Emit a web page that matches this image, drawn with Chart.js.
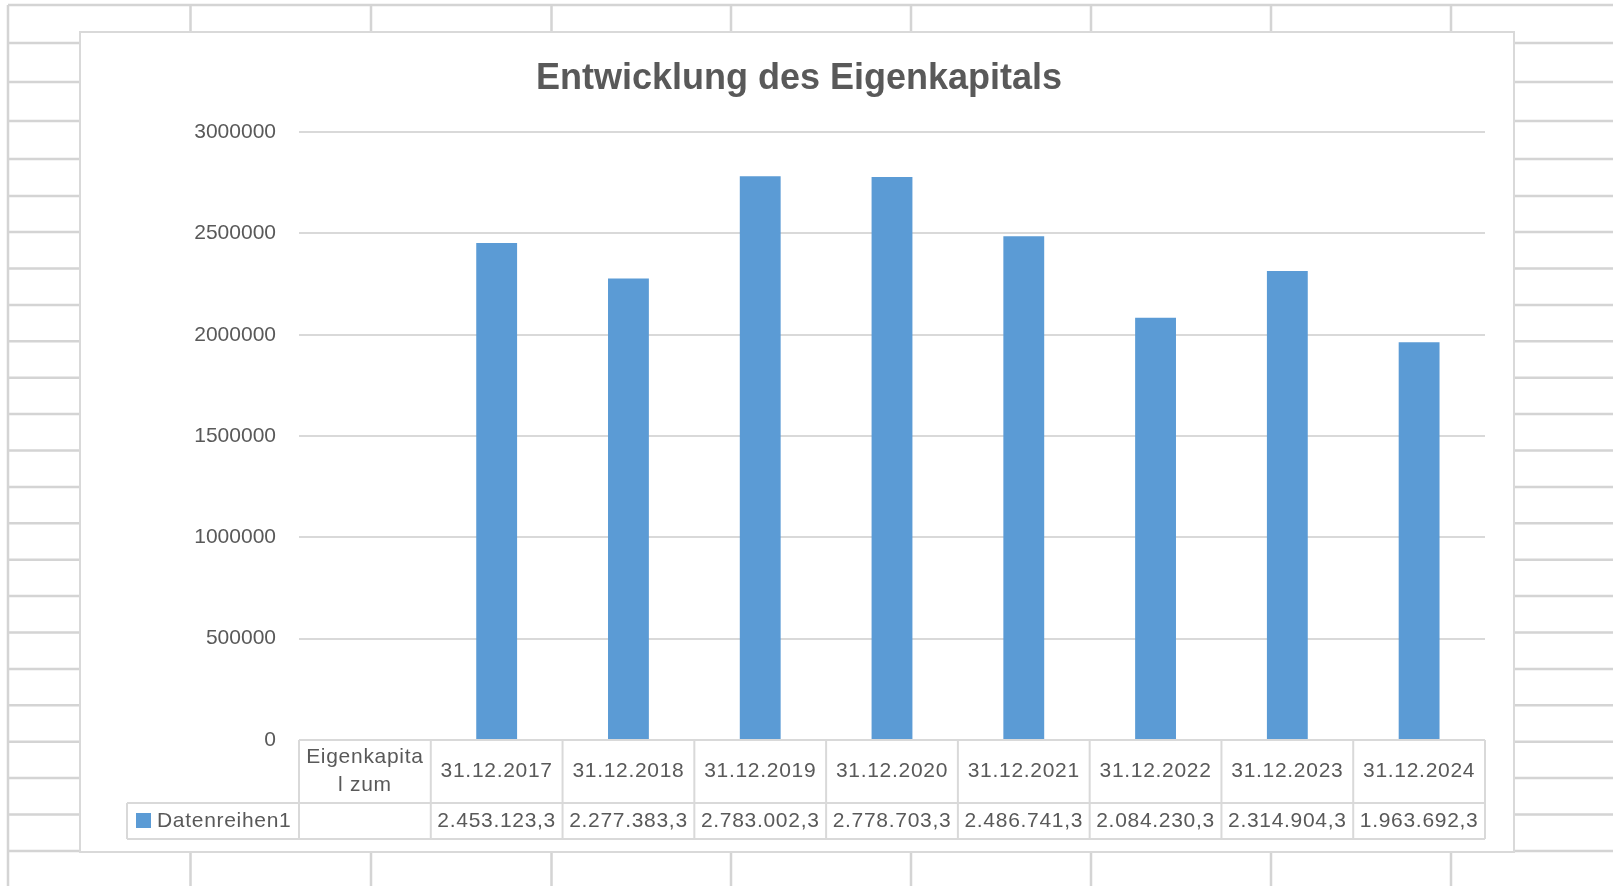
<!DOCTYPE html>
<html>
<head>
<meta charset="utf-8">
<script src="https://cdn.jsdelivr.net/npm/chart.js@4/dist/chart.umd.min.js"></script>
<style>
  html, body { margin: 0; padding: 0; background: #fff; }
  canvas { display: block; }
</style>
</head>
<body>
<canvas id="chart" width="1613" height="886"></canvas>
<script>
// categories (first one is the header cell of the data table, no value)
const categories = [
  ['Eigenkapita', 'l zum'],
  '31.12.2017', '31.12.2018', '31.12.2019', '31.12.2020',
  '31.12.2021', '31.12.2022', '31.12.2023', '31.12.2024'
];
const seriesName = 'Datenreihen1';
const equity = [null, 2453123.3, 2277383.3, 2783002.3, 2778703.3, 2486741.3, 2084230.3, 2314904.3, 1963692.3];
const yTicks = [0, 500000, 1000000, 1500000, 2000000, 2500000, 3000000];

const BAR = '#5b9bd5';
const TEXT = '#595959';
const LINE = '#d9d9d9';
const SHEET = '#d4d4d4';
const FONT = '"Liberation Sans", Arial, sans-serif';

// 2.453.123,3
function fmtDe(v) {
  const [int, dec] = v.toFixed(1).split('.');
  return int.replace(/\B(?=(\d{3})+(?!\d))/g, '.') + ',' + dec;
}

// spreadsheet grid behind the chart object
const sheetBackground = {
  id: 'sheetBackground',
  beforeDraw(chart) {
    const ctx = chart.ctx;
    ctx.save();
    ctx.fillStyle = '#fff';
    ctx.fillRect(0, 0, chart.width, chart.height);
    ctx.strokeStyle = SHEET;
    ctx.lineWidth = 2.5;
    const rows = [43, 82, 121, 159, 196, 232];
    for (let y = 268.5; y <= 852; y += 36.4) rows.push(y);
    const cols = [190.5, 371, 551.5, 731, 911, 1091, 1271, 1451];
    ctx.beginPath();
    ctx.moveTo(8, 5); ctx.lineTo(chart.width, 5);
    ctx.moveTo(8, 5); ctx.lineTo(8, chart.height);
    rows.forEach(y => {
      ctx.moveTo(8, y); ctx.lineTo(80, y);
      ctx.moveTo(1514, y); ctx.lineTo(chart.width, y);
    });
    cols.forEach(x => {
      ctx.moveTo(x, 5); ctx.lineTo(x, 32);
      ctx.moveTo(x, 852); ctx.lineTo(x, chart.height);
    });
    ctx.stroke();
    // chart object box
    ctx.fillStyle = '#fff';
    ctx.fillRect(80, 32, 1434, 820);
    ctx.strokeStyle = LINE;
    ctx.lineWidth = 2;
    ctx.strokeRect(80, 32, 1434, 820);
    ctx.restore();
  }
};

// data table under the plot, cells aligned with the category scale
const dataTable = {
  id: 'dataTable',
  afterDraw(chart) {
    const ctx = chart.ctx;
    const x = chart.scales.x;
    const area = chart.chartArea;
    const half = (x.getPixelForValue(1) - x.getPixelForValue(0)) / 2;
    const top = area.bottom;
    const mid = top + 63;
    const bottom = top + 99;
    const legendLeft = 127;

    ctx.save();
    ctx.strokeStyle = LINE;
    ctx.lineWidth = 2;
    ctx.beginPath();
    ctx.moveTo(area.left, top); ctx.lineTo(area.right, top);
    ctx.moveTo(legendLeft, mid); ctx.lineTo(area.right, mid);
    ctx.moveTo(legendLeft, bottom); ctx.lineTo(area.right, bottom);
    ctx.moveTo(legendLeft, mid); ctx.lineTo(legendLeft, bottom);
    for (let i = 0; i <= categories.length; i++) {
      const bx = i < categories.length ? x.getPixelForValue(i) - half : x.getPixelForValue(categories.length - 1) + half;
      ctx.moveTo(bx, top); ctx.lineTo(bx, bottom);
    }
    ctx.stroke();

    ctx.fillStyle = TEXT;
    ctx.font = '21px ' + FONT;
    ctx.textAlign = 'center';
    ctx.textBaseline = 'middle';
    ctx.letterSpacing = '0.7px';
    categories.forEach((c, i) => {
      const cx = x.getPixelForValue(i);
      if (Array.isArray(c)) {
        c.forEach((line, j) => ctx.fillText(line, cx, top + 17 + j * 28));
      } else {
        ctx.fillText(c, cx, top + 31);
      }
      if (equity[i] !== null) {
        ctx.fillText(fmtDe(equity[i]), cx, top + 81);
      }
    });

    // legend key + series name
    ctx.fillStyle = BAR;
    ctx.fillRect(136, top + 73, 15, 15);
    ctx.fillStyle = TEXT;
    ctx.textAlign = 'left';
    ctx.fillText(seriesName, 157, top + 81);
    ctx.restore();
  }
};

new Chart(document.getElementById('chart').getContext('2d'), {
  type: 'bar',
  data: {
    labels: categories,
    datasets: [{
      label: seriesName,
      data: equity,
      backgroundColor: BAR,
      barPercentage: 0.31,
      categoryPercentage: 1
    }]
  },
  options: {
    responsive: false,
    animation: false,
    layout: { padding: { left: 113, right: 128, top: 32, bottom: 0 } },
    plugins: {
      legend: { display: false },
      tooltip: { enabled: false },
      title: {
        display: true,
        text: 'Entwicklung des Eigenkapitals',
        color: TEXT,
        font: { family: FONT, size: 36, weight: 'bold', lineHeight: 1.2 },
        padding: { top: 25, bottom: 32 }
      }
    },
    scales: {
      x: {
        offset: true,
        grid: { display: false },
        border: { display: false },
        ticks: { display: false },
        afterFit: s => { s.height = 146; }
      },
      y: {
        min: 0,
        max: 3000000,
        afterBuildTicks: s => { s.ticks = yTicks.map(v => ({ value: v })); },
        grid: { color: LINE, lineWidth: 2, drawTicks: false },
        border: { display: false },
        ticks: {
          color: TEXT,
          padding: 23,
          font: { family: FONT, size: 21 },
          callback: v => String(v)
        },
        afterFit: s => { s.width = 186; }
      }
    }
  },
  plugins: [sheetBackground, dataTable]
});
</script>
</body>
</html>
